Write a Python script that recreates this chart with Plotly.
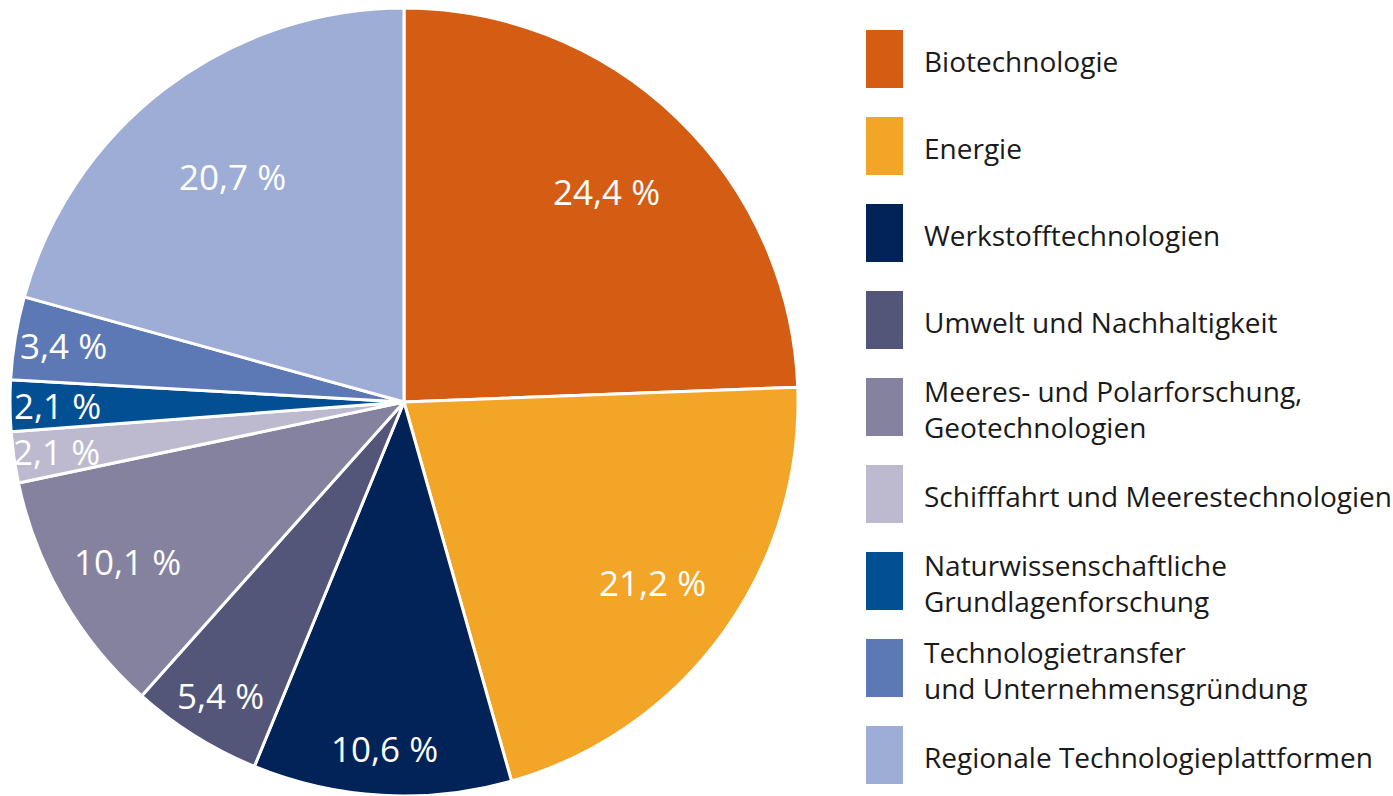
import math
import plotly.graph_objects as go

categories = [
    "Biotechnologie",
    "Energie",
    "Werkstofftechnologien",
    "Umwelt und Nachhaltigkeit",
    "Meeres- und Polarforschung,<br>Geotechnologien",
    "Schifffahrt und Meerestechnologien",
    "Naturwissenschaftliche<br>Grundlagenforschung",
    "Technologietransfer<br>und Unternehmensgründung",
    "Regionale Technologieplattformen",
]
values = [24.4, 21.2, 10.6, 5.4, 10.1, 2.1, 2.1, 3.4, 20.7]
value_labels = ["24,4 %", "21,2 %", "10,6 %", "5,4 %", "10,1 %", "2,1 %", "2,1 %", "3,4 %", "20,7 %"]
colors = ["#D45C13", "#F2A527", "#012357", "#535579", "#85829F",
          "#BDB9CF", "#024F93", "#5D79B5", "#9EADD5"]

# style: radial placement of the percentage labels (fraction of radius)
label_r = [0.74, 0.78, 0.88, 0.88, 0.81, 0.89, 0.88, 0.875, 0.72]

W, H = 1393, 796
FONT = "Open Sans"

# pie domain in pixels
dom_x = (10, 798)
dom_y_frac = (0.0, 0.99)

fig = go.Figure()
fig.add_trace(go.Pie(
    labels=[c.replace("<br>", " ") for c in categories],
    values=values,
    sort=False,
    direction="clockwise",
    rotation=0,
    marker=dict(colors=colors, line=dict(color="white", width=3)),
    textinfo="none",
    hoverinfo="label+percent",
    showlegend=False,
    domain=dict(x=[dom_x[0] / W, dom_x[1] / W], y=list(dom_y_frac)),
))

# geometry derived from the pie domain
dom_h = (dom_y_frac[1] - dom_y_frac[0]) * H
dom_w = dom_x[1] - dom_x[0]
R = min(dom_h, dom_w) / 2
cx = (dom_x[0] + dom_x[1]) / 2
cy = H - (dom_y_frac[0] * H + dom_h / 2)  # from top

annotations = []
total = sum(values)
cum = 0.0
for v, lab, rf in zip(values, value_labels, label_r):
    theta = math.radians((cum + v / 2) / total * 360)
    cum += v
    px = cx + rf * R * math.sin(theta)
    py = cy - rf * R * math.cos(theta)
    annotations.append(dict(
        x=px / W, y=1 - py / H, xref="paper", yref="paper",
        text=lab, showarrow=False, xanchor="center", yanchor="middle",
        font=dict(family=FONT, size=35, color="white"),
    ))

# custom legend
shapes = []
box_x0, box_w, box_h = 866, 37, 58
top0, step = 30, 87
for i, (cat, col) in enumerate(zip(categories, colors)):
    y0 = top0 + i * step
    shapes.append(dict(
        type="rect", xref="paper", yref="paper",
        x0=box_x0 / W, x1=(box_x0 + box_w) / W,
        y0=1 - (y0 + box_h) / H, y1=1 - y0 / H,
        fillcolor=col, line=dict(width=0),
    ))
    yc = y0 + box_h / 2 + 2
    annotations.append(dict(
        x=922 / W, y=1 - yc / H, xref="paper", yref="paper",
        text=cat, showarrow=False, xanchor="left", yanchor="middle", align="left",
        font=dict(family=FONT, size=28, color="#1a1a1a"),
    ))

fig.update_layout(
    width=W, height=H,
    margin=dict(l=0, r=0, t=0, b=0),
    paper_bgcolor="white", plot_bgcolor="white",
    annotations=annotations, shapes=shapes,
    font=dict(family=FONT),
)

fig.write_html("out.html", config={"displayModeBar": False},
               post_script="document.body.style.margin='0';")
